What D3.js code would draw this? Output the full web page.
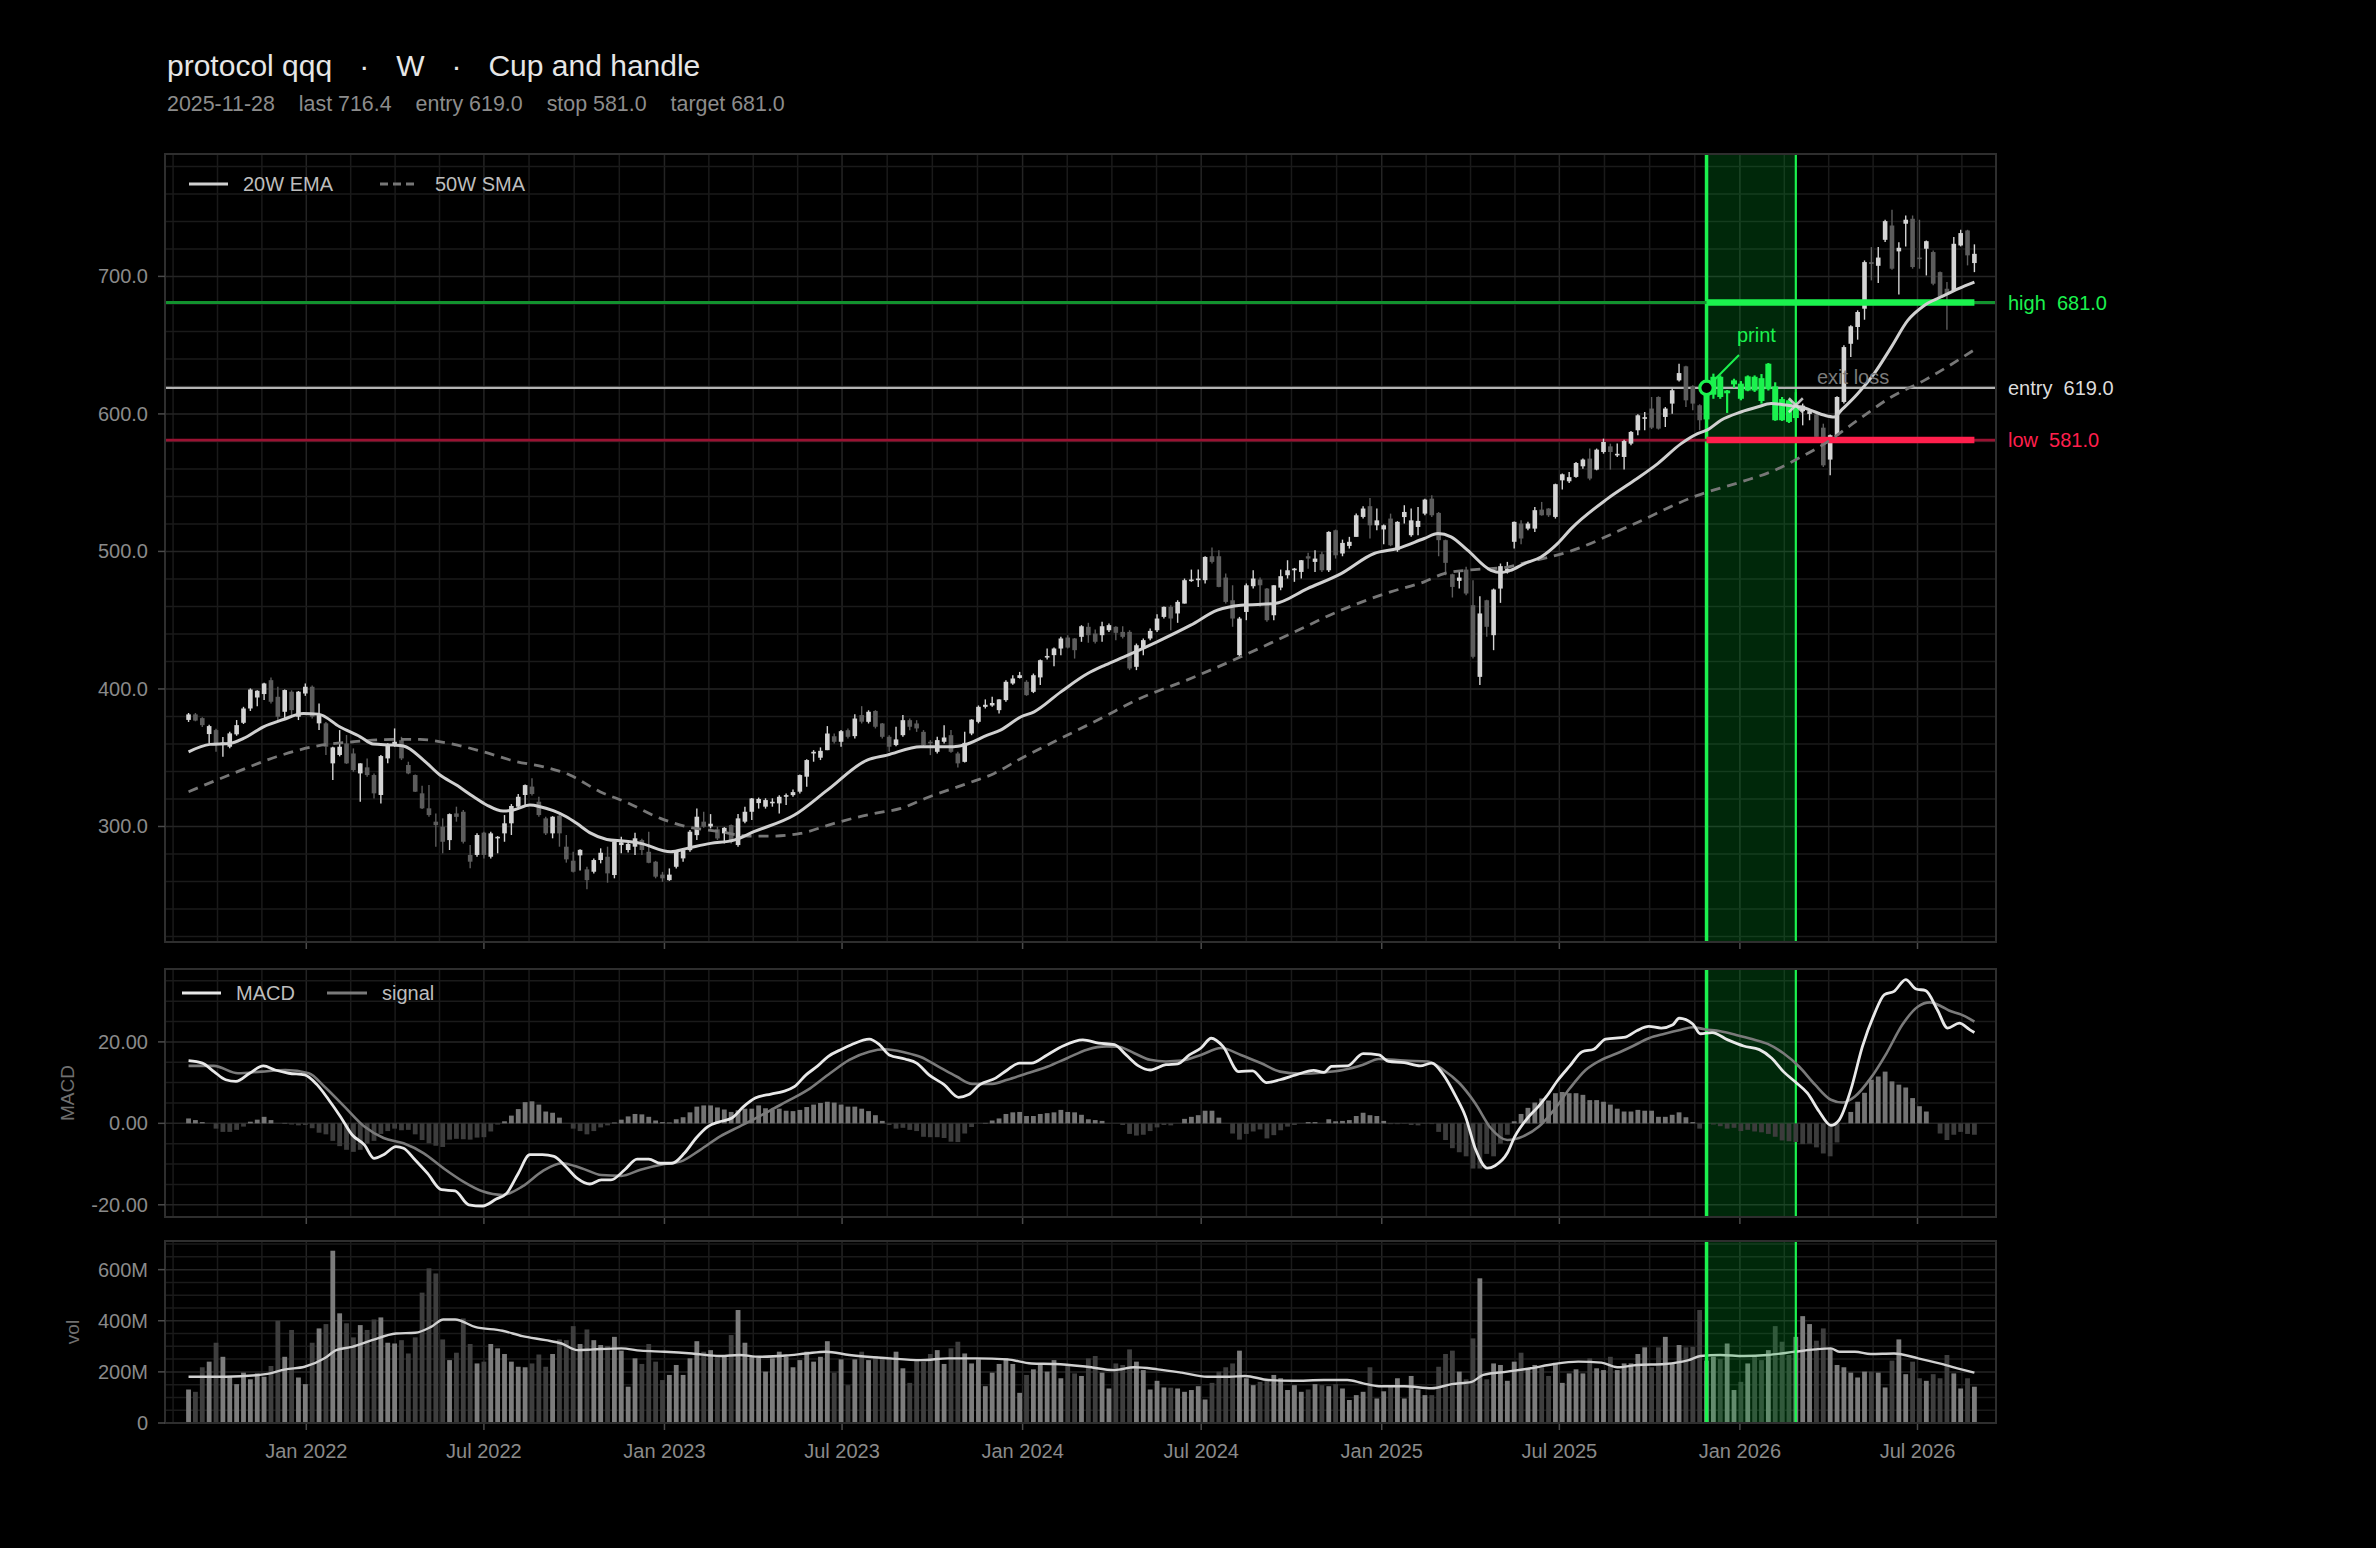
<!DOCTYPE html>
<html>
<head>
<meta charset="utf-8">
<script src="https://cdn.jsdelivr.net/npm/d3@7"></script>
<style>
	body { margin: 0; background: #000; }
	svg { display: block; font-family: "Liberation Sans", Arial, sans-serif; }
</style>
</head>
<body>
<svg id="chart" width="2376" height="1548"></svg>
<script>
// weekly bars, first one on this friday
var firstWeek = "2021-09-03";

var titleParts = ["protocol qqq", "\u00b7", "W", "\u00b7", "Cup and handle"];
var subtitleParts = ["2025-11-28", "last 716.4", "entry 619.0", "stop 581.0", "target 681.0"];

// [open, high, low, close]
var candles = [
	[377.5,382.5,376,381.5],[381.5,382.5,376.5,377],[378.8,379.5,372.3,373.7],[367.2,374,360.4,373],[370.1,371,354.3,360.4],
	[360,365,350.7,361],[358,368.9,356.8,367.7],[367,377.4,366,373.7],[375.4,387,374.5,385.8],[385.8,400.4,384,399.6],
	[393.8,399,387.5,398.7],[396.3,404.5,391.9,404],[406.4,408.4,389.5,390.7],[394.3,401.6,377.4,379.8],[383.4,399.6,378.6,399.2],
	[398,399,381,384.6],[379.8,398.5,377.4,398],[396.7,404,395,401.6],[401.6,402.5,378.6,379.8],[375,389.5,370.1,381],
	[375,376,352,358],[345.9,358,333.8,357.5],[352,370.1,351,358],[360.4,366.5,345.5,345.9],[353.1,356.8,339.8,341],
	[338.6,346,318,345.9],[343,349.5,336.2,337.4],[337.4,338.6,320.4,324.1],[322.9,351.9,316.8,351.2],[349.5,360.5,345.9,359.9],
	[359.2,371.3,358,361.6],[362.8,365.2,348.3,349.5],[344.7,347.1,338,338.6],[337.4,337.8,325,325.3],[324.1,329.6,312.7,313.2],
	[313.2,330.1,307.1,308.3],[303.5,309.5,285.3,301],[299.8,305.9,280.5,288.9],[290.1,309.5,282.9,309],[309.5,314.4,303.5,307],
	[310.7,312,287.7,288.9],[279.3,286.5,269.6,274.4],[279.3,295,278,293.8],[295.5,296.2,276.8,279.3],[278,296.2,276.8,295],
	[291.5,293,280.5,292.5],[295,308.3,288.9,302.3],[302.3,316.3,293.8,314.9],[314.4,323.6,313,321.6],[322.9,330.5,314.4,330.1],
	[329,335,322.5,323.6],[318,321.6,307.1,308.3],[305.9,307,293.8,295],[295,307.5,291.4,307.1],[307.8,309.5,285.3,295],
	[285.3,293.8,273.7,276.1],[275.1,281.7,266.5,267.1],[279,283.4,268,283],[268.8,270.8,254.3,261],[267.1,276.8,265.9,275.6],
	[275.6,284.1,273.2,280.9],[278,285.3,259.1,265.9],[264.7,290,262.3,289],[286.5,292.6,280.5,288.5],[282.9,288,281,287.3],
	[285.3,295.4,279.2,291.4],[290.1,291,279.2,282.9],[281.6,296.2,273.2,273.6],[274.4,275,262.3,263.5],[265,267,259.8,262.3],
	[261,269.5,260.5,265],[270.7,282,269.5,281.6],[276.8,284,274.4,282.8],[282.8,297.4,281.6,296.2],[293.7,313,290.1,307.1],
	[303.5,310.7,299,299.8],[300,309,298.6,302],[297.9,299.8,290.1,291.3],[295,299.5,287.7,299],[301,301.5,287.7,290.1],
	[286.5,309,285.3,305.9],[303.5,314.4,302.3,310.7],[310.7,320.8,304.7,320.4],[317,321,313,320],[314.4,320.5,313,319.2],
	[317,320.5,314.4,318],[316.8,322.8,309.5,321.6],[321.6,324,315.6,322.8],[322.8,326.9,321.6,325],[325.3,337.8,324,337.4],
	[336.2,348.8,328.9,348.3],[353.1,355.5,347.1,354.3],[350,357.5,348.3,355],[355.5,373,355.5,367.6],[365.6,367.6,360.4,361.6],
	[361.6,370.1,357.9,369.3],[370,371.3,364,365.2],[365.7,381.7,364,378.5],[381,387.5,374.9,376.2],[376.1,384.5,374.9,383.4],
	[384,384.6,371.3,372.5],[374.9,375.2,364,365.2],[365.2,366.4,354.3,358],[359.2,372.5,358.4,363.3],[366.4,381,365.2,377.3],
	[377.3,378.5,370,372.5],[374.9,377.3,368.8,371.3],[368.8,370.1,358.4,359.2],[361.6,362.8,351.9,360.4],[354.3,365.2,353.1,362.8],
	[361.6,373.7,360.4,364.7],[366.4,370.1,353.6,354.3],[353.1,354.3,342.9,345.9],[347,368.8,346.5,360.8],[367.6,378,366.4,377.7],
	[376.1,388,375,387],[387,392.4,385.8,388.5],[388,394.3,387,389.8],[384.6,392.5,382.2,392.4],[391.9,406.4,390.7,405.2],
	[404,410,403,407.6],[408,412.4,407.6,410],[405.2,406.4,395,395.5],[397.9,411.2,397,410],[408.4,421.4,402.8,420.9],
	[423.5,429.4,421.4,424],[424.6,430.1,416.6,429.4],[429.4,437.9,424.5,436.7],[437.4,439,429.4,430.1],[436.7,437,422.1,428.2],
	[437.9,446.4,434.3,445.6],[445.2,448.1,433.6,439.1],[440.3,443.2,433,434.3],[439.1,448.8,434.3,445.6],[442.7,447.6,441.5,446.4],
	[445.2,445.6,435.5,440.8],[441.5,445.6,436.7,437.9],[441.5,442.7,413.7,414.9],[416.1,433,413.7,431.8],[429.4,436.7,424.6,435.5],
	[436.7,443.9,435.5,442.2],[442.7,454.4,441.5,451.2],[452.4,460,451.2,459.7],[459.7,460.9,442.7,451.2],[454.9,464.5,448.1,463.3],
	[462.1,480.3,462.1,479.1],[478.6,486.8,477.9,479.6],[479.1,486.8,474.2,480.3],[479.1,496.5,476.7,496],[496.5,502.8,491.2,492.4],
	[496.5,500.9,474,474.2],[481,483.9,462.1,463.3],[464.5,475.4,445.2,451.2],[424.6,452.4,423.4,451.2],[456,476.7,450,475.4],
	[474.7,486.3,473,480.3],[479.6,481,459.7,475.4],[473,473.5,448.8,450],[453.6,475.5,450,475.4],[473.7,486.8,471.8,482],
	[482.7,493.6,480.3,486.3],[486.3,488,477.9,487.5],[485.1,493.8,480.3,493.6],[496.5,499,487.5,494.8],[492.4,500.9,485.1,494.8],
	[498,499.7,485.1,486.3],[486.3,514.7,485.1,514.2],[515.4,515.9,494.8,497.2],[498.5,508.6,496.5,506.2],[504,510.6,502.1,507],
	[510.6,527.5,510.6,526.3],[525.1,532.9,523.9,531.2],[532.9,538.9,509.4,519],[519,531.2,515.4,522.6],[516,519.5,505.3,519],
	[523.9,527.5,503.8,504.5],[500.9,522,499.7,521.5],[525,533.6,520.3,528.7],[511.8,531.2,510.6,522.6],[517.8,532.4,511.8,522.2],
	[527.5,538.4,526.3,537.7],[538.4,540.9,525.1,526.3],[528,528.7,496.5,508.2],[508.2,508.6,482.7,491.7],[483.4,483.8,466.5,474.2],
	[478.6,486.3,473,481],[486.8,488.8,468.2,469.4],[460.9,479.1,422.2,423.4],[408.8,467.5,402.8,454.9],[464.5,464.8,437.9,445.2],
	[439.1,473,428.2,472.3],[473,491.2,462.6,489.3],[484.9,492.4,483.9,487.5],[507,521.8,502.1,521.5],[520.3,522.7,505.3,509.4],
	[516.6,521.5,515.4,520.3],[516.6,532.4,514.2,530],[530.4,536,526,526.3],[531.2,531.5,525.1,526.3],[525.1,549.3,523.9,548.9],
	[551.7,556.6,545,556.1],[551,557.8,549.8,554],[554.2,565.1,553.5,564.3],[561.9,567.5,560.2,566.8],[567.5,574.8,551.7,553],
	[559.5,574.8,559,574],[572.3,582,571.1,579.6],[576.4,578.4,559.5,572.3],[570,578.4,568.7,571],[568.7,581.3,559.5,580.3],
	[578.4,587.6,577.2,586.9],[588.1,599.7,584.4,599],[596.6,601.4,588.1,597.6],[603.9,612.3,589,590],[612.3,612.8,588.6,589.3],
	[597.8,605,590.5,603.9],[607.5,618.4,600.2,617.2],[624.4,636.5,623.5,629.7],[634.6,635,605.1,609.9],[620.1,620.8,602.6,607.5],
	[606.3,607,588.1,595.4],[596,621,588,618],[614,629.3,611,627],[627,628,611,612.3],[615,617.4,600.7,617],
	[621.5,625.6,619,624.4],[622,623.9,609.9,611],[617,628,616.5,627.3],[627,628,616,617],[626,629,607.5,609.4],
	[618,637,617,636.5],[620,623,595,595.4],[610.8,612.3,594.9,595.4],[609.9,610.5,593.4,594.2],[597,615.8,595.4,606],
	[602,607.5,591.7,606],[600,602.6,595.4,602],[599.7,600.5,582,583.3],[590,592.9,561.4,562.6],[566.8,585,555.4,584.5],
	[584.5,612.8,584,612.3],[608.7,649.9,607.5,648.6],[651,664.4,641.4,663.7],[663.2,675.3,654,674.1],[676.5,711.6,668.5,710.4],
	[710.4,721.3,697.1,709],[707.7,721.3,695.2,713.7],[726.6,741.2,725,740.2],[737,748.4,704.9,705.6],[718.2,724.9,686.9,720.8],
	[738.3,744.3,721.8,741.2],[741.9,744.3,705.6,706.8],[713.7,741.2,705.6,712.8],[720.1,726.1,700.7,725.6],[717.7,718.9,693.5,694.7],
	[703.1,703.5,683.8,684.5],[691,695.9,661.2,687.4],[689.8,728.6,688.6,723.7],[722.5,733.9,721.8,731.5],[733.4,733.9,708,715.3],
	[709.7,723.3,703.1,716.4]
];

// weekly volume, millions
var volumes = [
	131,122,218,240,314,259,181,152,197,171,194,181,223,400,259,364,178,152,314,370,
	387,674,429,390,335,383,364,405,413,314,311,324,272,335,510,605,585,327,246,275,
	409,309,233,240,309,292,270,240,220,218,233,268,220,270,327,324,379,309,366,324,
	305,301,337,283,142,253,231,309,240,168,188,227,188,253,320,279,285,266,259,344,
	442,314,262,255,201,253,279,259,218,246,279,240,259,320,197,249,148,249,279,246,
	262,257,259,279,214,157,246,240,270,285,231,292,318,272,233,249,144,197,231,253,
	231,118,188,210,227,201,246,175,223,194,184,253,262,197,135,233,227,288,240,207,
	131,165,139,138,135,122,129,144,92,157,201,218,233,283,175,148,161,165,188,175,
	129,148,122,131,152,148,144,152,135,90,109,122,218,96,124,142,175,96,184,131,
	109,109,220,270,283,201,171,331,566,171,233,227,165,240,275,214,227,218,184,233,
	157,194,210,194,253,214,207,259,207,233,233,270,296,218,296,337,231,305,296,298,
	442,244,259,250,311,129,161,233,259,246,285,379,318,266,337,418,387,322,370,292,
	227,218,197,178,201,201,197,139,244,327,191,240,175,165,191,175,266,194,135,175,
	142
];

var macdHist = [
	1.2,0.8,0.3,0,-1.3,-2.1,-2.1,-1.6,-0.8,0.4,0.9,1.6,0.8,0,0.1,-0.3,-0.5,-0.4,-1.2,-2.3,
	-2.7,-4.3,-5.6,-6.5,-7,-6.5,-5,-4.3,-2.6,-1.9,-1.3,-1.7,-1.6,-2.7,-4.1,-4.9,-5.5,-5.8,-4,-3.8,
	-3.9,-4,-3.5,-3.4,-2,-0.3,0.5,1.9,3.5,5.2,5.4,4.6,2.9,2.6,1.4,0,-1.3,-1.9,-2.7,-1.9,
	-1,-0.5,0.2,0.9,1.7,2.3,2.2,1.6,0.7,0.3,0.2,1,1.5,2.7,4.1,4.4,4.4,3.9,3.4,2.8,
	3.2,3.6,3.6,4.4,3.7,3.3,3.6,3.1,3,3.3,4,4.6,5,5.3,5.1,4.6,4.1,4.1,3.6,3,
	2,0.6,-0.4,-1.3,-1.1,-1.6,-1.9,-3.3,-3.4,-3.4,-3.6,-4.5,-4.6,-2.5,-0.9,0,0.1,0.7,1.2,2.3,
	2.7,2.8,1.8,1.8,2.3,2.5,2.7,3.3,2.8,2.7,2.1,1,0.8,0.6,0,0,-0.4,-2.6,-3,-2.8,
	-1.9,-1,-0.4,-0.5,0,1.1,1.6,2,3.1,3.1,1.4,0,-2.5,-4,-2.6,-2,-1.5,-3.7,-2.9,-1.7,
	-0.8,-0.4,0,0.3,0.3,0,1,0.5,0.6,0.8,1.8,2.6,2,1.8,0.6,-0.2,-0.2,-0.1,-0.4,-0.5,
	-0.1,-0.2,-2.1,-4.1,-6.1,-7.1,-8.1,-11.1,-11.1,-7.5,-8.1,-5,-2.8,0.5,2.3,3.8,5.1,6.1,5.6,7.4,
	7.7,7.4,7.4,7,5.7,5.7,5.3,4.6,3.6,2.9,2.9,3.3,3.1,3.1,1.6,1.6,2.1,2.7,1.5,0.3,
	-1.3,0,-0.3,-0.7,-1.3,-1.1,-1.9,-1.6,-2,-2.2,-2.6,-3.3,-4.2,-4.4,-4.6,-5.1,-5,-5.9,-7.4,-8.1,
	-4.7,-0.2,2.8,5.3,7.5,10.7,11.5,12.7,10.3,9.5,8.8,6.2,4.2,2.9,0,-2.5,-4.1,-2.8,-2.1,-2.6,
	-2.8
];

// indicator readings as [week, value]
var ema20 = [
	[0,354.3],[3.1,359.7],[6,360.4],[8,364],[10.9,372.5],[13.8,377.8],[16.7,382.2],[18.9,381.7],[22,372.5],[25,365.2],
	[26.9,359.9],[29.8,359.2],[31.3,358.5],[34.2,348.3],[36.6,337.4],[39,330.1],[41.5,321.6],[43.4,315.6],[45.8,311.2],[47.3,312],
	[49.7,315.6],[51.2,314.4],[53.1,311.5],[55,307.1],[56.5,302.3],[58.4,295.5],[60.9,290.6],[63.3,289.4],[65.8,287.7],[70.2,281.6],
	[72.6,284.1],[76,287.7],[79.4,290.1],[82.3,296.2],[88.2,308.3],[93,326.4],[98.8,348.3],[101.7,351.9],[106.6,358],[111.4,358],
	[112.9,359.2],[116.3,366.4],[118.2,370.1],[121.2,379.8],[123.1,383.4],[127,397.9],[130.9,411.2],[133.5,417.5],[136.2,423.4],[141,434.3],
	[145.9,446.4],[149.8,457.3],[153.2,460.9],[158.1,462.1],[162.9,473],[167.8,483.9],[172.6,498.5],[176,502.1],[179.9,509.4],[181.9,513],
	[183.8,510.6],[186.2,500.9],[189.6,486.3],[191.1,484.7],[192.5,486.3],[194.5,491.2],[196.9,496],[199.3,505.7],[201.3,516.6],[206.6,538.4],
	[210.5,551.7],[213.9,563.9],[217.3,578.4],[219.7,585.7],[221.2,588.6],[223.1,595.4],[226,601.4],[228.4,605],[230.4,607.5],[232.8,606.3],
	[234.8,605],[236.2,602.6],[238.2,599],[239.6,597.8],[240.6,602.6],[243,614.7],[245.4,629.3],[247.9,648.6],[250.3,668],[252.7,678.9],
	[255.1,685],[257.6,691],[260,695.9]
];
var sma50 = [
	[0,325.3],[6.5,338.6],[12.8,350.7],[18.6,358.5],[24,361.6],[29.8,363.3],[33.7,363.3],[38,360.4],[42.9,354.3],[47.8,347.1],
	[51.7,343.4],[55.5,337.4],[59.9,325.3],[63.8,317.5],[68.7,305.9],[72.6,299.8],[77.5,296.2],[81.4,293],[84.8,293],[89.1,295],
	[94,302.3],[99.8,309.5],[103.7,313.1],[107.6,321.1],[113.4,331.3],[117.3,338.6],[121.2,349.5],[126,361.6],[132.8,378.5],[138.2,392.4],
	[145.9,407.6],[153.2,423.4],[160.5,440.3],[167.8,457.3],[175,470.6],[179.9,477.9],[182.8,483.9],[187.2,486.8],[191.6,488.3],[194.5,491.7],
	[201.3,500.4],[210,519],[219.7,540.8],[226,550.5],[230.9,559],[234.3,567.5],[238.2,578.4],[243,595.4],[247.9,612.3],[252.7,624.4],
	[260,646.7]
];
var macdLine = [
	[0,15.4],[2,14.8],[3.7,12.7],[5.4,10.7],[6.9,10.3],[8.9,12.3],[10.9,14.1],[12.6,13.1],[14.6,12.3],[16.9,11.9],
	[18.7,9.5],[20.4,5.8],[22.1,1.7],[23.8,-2.8],[25.6,-5.3],[27,-8.6],[28.4,-7.7],[30.2,-5.7],[31.3,-6.1],[33,-9],
	[34.8,-12.3],[36.8,-16.3],[38.8,-16.6],[40.8,-20],[42.8,-20.3],[44.8,-18.6],[46.3,-17.2],[48,-12.3],[49.7,-7.7],[51.5,-7.7],
	[53.2,-8.1],[54.9,-10.6],[56.6,-13.5],[58.4,-14.9],[60.1,-13.9],[61.5,-13.9],[63.5,-11.4],[65.3,-8.8],[67,-8.8],[68.7,-9.8],
	[70.4,-9.8],[72.2,-7.3],[73.9,-3.6],[75.6,-0.8],[77.3,0.4],[79.1,1.3],[80.8,4.1],[82.5,6.2],[84.8,7.2],[86.5,7.8],
	[88.2,9],[89.9,11.9],[91.6,14.1],[93.1,16.4],[95.1,18.2],[96.5,19.3],[99.1,20.7],[100.6,19.3],[102,16.8],[104.3,15.8],
	[106,14.8],[107.8,11.9],[110,9.5],[112.1,6.4],[113.5,7],[115.2,9.5],[117.5,11.1],[119.2,13.1],[121,14.8],[122.7,14.8],
	[125,16.8],[127.3,19],[130.2,20.5],[132.5,19.7],[134.8,19.3],[136.5,16.8],[138.3,14.1],[140,13.1],[142.3,14.4],[144,14.6],
	[145.7,16.8],[147.4,18.5],[148.9,20.9],[150.6,18.9],[152.9,12.7],[154.9,12.9],[156.9,10],[158.9,10.7],[161.2,11.9],[163.8,13],
	[165.3,12.5],[166.4,14],[168.7,14.1],[171,17.1],[173.3,16.8],[174.7,15.2],[177,14.9],[179.3,14.1],[181,14.8],[182.7,11.9],
	[184.5,6.6],[185.9,1.7],[187.4,-6.5],[189.1,-11],[190.2,-10.4],[192,-7.3],[193.1,-3.2],[194.8,1],[196.5,4.1],[197.7,6.6],
	[199.4,10.7],[201.1,14.1],[202.9,17.6],[204.6,18.2],[206.3,20.7],[209.2,21.2],[210.9,22.8],[212.6,23.8],[214.4,23.4],[216.1,24.2],
	[217,25.8],[219,24.4],[220.1,22],[221.8,22.3],[224.1,20.5],[226.4,19],[228.7,18.1],[230.5,16],[232.2,12.7],[233.9,10.2],
	[235.7,7.4],[237.4,2.9],[239.1,-0.5],[240.3,0.8],[242,8.2],[243.7,18.9],[245.4,26.7],[246.9,31.6],[248.3,32.4],[250,35.3],
	[251.5,33],[252.9,32.6],[254.6,27.9],[256.1,23.4],[257.8,24.6],[259.3,23],[260,22.3]
];
var signalLine = [
	[0,14.1],[3.7,14.1],[7.2,12.3],[10.6,12.7],[14.1,13.1],[17.5,12.3],[19.8,9],[22.7,4.1],[25.6,-0.8],[28.4,-3.6],
	[31.3,-4.9],[34.2,-7.3],[37.1,-11],[40,-14.3],[42.8,-16.7],[45.7,-17.6],[48.6,-15.5],[51.5,-11.8],[54.3,-9.8],[57.2,-11],
	[60.1,-12.7],[63,-12.9],[65.8,-11.4],[69.3,-10],[71.6,-9.4],[74.5,-6.5],[77.4,-3.2],[80.2,-0.8],[83.1,1.7],[84.7,3.2],
	[87.6,5.8],[90.5,8.6],[93.4,12.3],[96.2,15.6],[99.1,17.6],[101.4,18.2],[104.3,17.4],[106.6,16.3],[109.5,13.6],[111.8,11.5],
	[114.1,9.7],[117,9.7],[119.2,10.7],[122.1,12.3],[125,13.9],[127.9,16],[130.8,18.1],[133.6,18.9],[135.4,18.8],[137.7,17.2],
	[140,15.6],[142.3,15.2],[144.6,15.4],[147.4,16.8],[150.3,18.5],[153.2,16.8],[156.1,14.8],[158.9,12.7],[161.8,12.2],[165.3,12.5],
	[168.1,13.1],[171,14.4],[173.3,15.8],[177,15.4],[180.4,15.2],[182.7,13.1],[185,9.9],[187.3,5],[189.6,-1.2],[192,-4.1],
	[194.3,-3.2],[196.6,-0.8],[198.8,3.3],[201.1,8.6],[203.4,13.1],[205.7,15.6],[208,17.2],[210.3,19],[212.6,20.9],[214.9,22],
	[217.3,23],[219,23.6],[220.7,23.1],[223,22.6],[225.3,21.7],[227.6,20.7],[229.9,19.5],[232.2,17.2],[234.5,13.9],[236.8,9.5],
	[239.1,5.8],[240.8,5.1],[242.6,6.6],[244.9,11.1],[247.2,17.2],[249.5,24.2],[251.8,28.7],[253.5,29.7],[255.2,28.7],[256.3,27.7],
	[258.1,26.7],[260,25]
];
var volAvg = [
	[0,181],[5.4,181],[11.2,191],[14.1,210],[16.9,220],[19.8,253],[21.5,285],[23.8,298],[26.7,324],[30.2,350],
	[33,353],[35.3,376],[37.1,405],[38.8,405],[41.7,376],[45.7,361],[48.6,340],[52,324],[54.3,311],[56.6,285],
	[58.9,288],[63,292],[65.8,283],[69.3,279],[73.3,272],[77.4,262],[80.2,266],[83.1,259],[87,264],[89.9,272],
	[92.8,279],[96.2,266],[102,253],[106.6,246],[110.6,253],[114.7,253],[119.2,249],[122.7,233],[126.2,231],[130.8,220],
	[134.8,207],[137.7,218],[141.1,210],[144.6,197],[148.3,181],[151.5,181],[153.8,184],[157.2,168],[160.7,165],[165.3,168],
	[168.7,168],[171,155],[173.3,144],[177,144],[181,136],[183.9,152],[186.8,161],[188.5,188],[192,201],[195.4,214],
	[198.8,231],[202.3,240],[205.7,236],[208,218],[210.9,227],[214.9,231],[218.4,246],[220.1,262],[223,266],[226.4,262],
	[229.9,266],[233.9,279],[236.8,288],[239.1,292],[240.3,279],[242.6,279],[244.9,270],[248.3,272],[251.8,253],[255.2,231],
	[258.1,210],[260,197]
];

var priceTicks = [300, 400, 500, 600, 700];
var macdTicks = [-20, 0, 20];
var volTicks = [0, 200, 400, 600];
var volTickLabels = ["0", "200M", "400M", "600M"];
var dateTicks = ["2022-01-01", "2022-07-01", "2023-01-01", "2023-07-01", "2024-01-01",
	"2024-07-01", "2025-01-01", "2025-07-01", "2026-01-01", "2026-07-01"];

// trade: entry week, exit week, levels
var entryWeek = 221;
var exitWeek = 234;
var exitPrice = 606.3;
var levelNames = ["high", "entry", "low"];
var levelValues = [681.0, 619.0, 581.0];

var chart = {
	left:		165,
	right:		1996,
	price:		{top: 154, bottom: 942, id: "clipPrice"},
	macd:		{top: 969, bottom: 1217, id: "clipMacd"},
	vol:		{top: 1241, bottom: 1423, id: "clipVol"},
	bodyW:		4.6,
	green:		"#1bf24e",
	red:		"#ff1f4c",
	start:		null,
	svg:		null,
	x:			null,
	yPrice:		null,
	yMacd:		null,
	yVol:		null,

	setup: function() {
		this.svg = d3.select("#chart");
		this.start = d3.utcParse("%Y-%m-%d")(firstWeek);

		this.x = d3.scaleUtc()
			.domain([new Date(Date.UTC(2021, 7, 10)), new Date(Date.UTC(2026, 8, 19))])
			.range([this.left, this.right]);
		this.yPrice = d3.scaleLinear().domain([216, 789]).range([this.price.bottom, this.price.top]);
		this.yMacd = d3.scaleLinear().domain([-23, 37.9]).range([this.macd.bottom, this.macd.top]);
		this.yVol = d3.scaleLinear().domain([0, 712]).range([this.vol.bottom, this.vol.top]);

		this.svg.append("rect").attr("width", 2376).attr("height", 1548).attr("fill", "#000");

		var defs = this.svg.append("defs");
		[this.price, this.macd, this.vol].forEach(function(p) {
			defs.append("clipPath").attr("id", p.id)
				.append("rect")
				.attr("x", chart.left).attr("y", p.top)
				.attr("width", chart.right - chart.left).attr("height", p.bottom - p.top);
		});
	},

	wx: function(i) {
		return chart.x(new Date(chart.start.getTime() + i * 7 * 864e5));
	},

	// vertical grid: major at the date ticks, 3 minor between
	grid: function(p, yScale, minorStep, majorStep) {
		var g = this.svg.append("g");
		var majors = dateTicks.map(function(d) { return chart.x(d3.utcParse("%Y-%m-%d")(d)); });
		var minors = [];
		for (var k = 0; k < majors.length; k++) {
			var next = k < majors.length - 1 ? majors[k + 1] : majors[k] + (majors[k] - majors[k - 1]);
			var step = (next - majors[k]) / 4;
			for (var j = 1; j < 4; j++) minors.push(majors[k] + j * step);
			if (k == 0) for (var j = 1; j < 4; j++) minors.push(majors[0] - j * step);
		}
		minors = minors.filter(function(v) { return v > chart.left + 2 && v < chart.right - 2; });

		g.selectAll(".vmin").data(minors).enter().append("line")
			.attr("x1", function(d) { return d; }).attr("x2", function(d) { return d; })
			.attr("y1", p.top).attr("y2", p.bottom)
			.attr("stroke", "#1a1a1a").attr("stroke-width", 1.5);
		g.selectAll(".vmaj").data(majors).enter().append("line")
			.attr("x1", function(d) { return d; }).attr("x2", function(d) { return d; })
			.attr("y1", p.top).attr("y2", p.bottom)
			.attr("stroke", "#242424").attr("stroke-width", 1.5);

		var d0 = yScale.domain();
		var hs = d3.range(Math.ceil(d0[0] / minorStep) * minorStep, d0[1], minorStep);
		g.selectAll(".h").data(hs).enter().append("line")
			.attr("x1", this.left).attr("x2", this.right)
			.attr("y1", function(d) { return yScale(d); }).attr("y2", function(d) { return yScale(d); })
			.attr("stroke", function(d) { return Math.abs(d % majorStep) < 1e-6 ? "#242424" : "#1a1a1a"; })
			.attr("stroke-width", 1.5);

		// bottom tick marks
		g.selectAll(".bt").data(majors).enter().append("line")
			.attr("x1", function(d) { return d; }).attr("x2", function(d) { return d; })
			.attr("y1", p.bottom).attr("y2", p.bottom + 7)
			.attr("stroke", "#4a4a4a").attr("stroke-width", 1.5);
	},

	frame: function(p) {
		this.svg.append("rect")
			.attr("x", this.left).attr("y", p.top)
			.attr("width", this.right - this.left).attr("height", p.bottom - p.top)
			.attr("fill", "none").attr("stroke", "#2e2e2e").attr("stroke-width", 2);
	},

	yAxis: function(p, yScale, ticks, labels) {
		var g = this.svg.append("g");
		g.selectAll("line").data(ticks).enter().append("line")
			.attr("x1", this.left - 7).attr("x2", this.left)
			.attr("y1", function(d) { return yScale(d); }).attr("y2", function(d) { return yScale(d); })
			.attr("stroke", "#4a4a4a").attr("stroke-width", 1.5);
		g.selectAll("text").data(ticks).enter().append("text")
			.attr("x", this.left - 17)
			.attr("y", function(d) { return yScale(d); })
			.attr("dy", "0.35em")
			.attr("text-anchor", "end")
			.attr("font-size", 20)
			.attr("fill", "#8a8a8a")
			.text(function(d, i) { return labels[i]; });
	},

	tradeZone: function(p) {
		var x0 = this.wx(entryWeek), x1 = this.wx(exitWeek);
		var g = this.svg.append("g");
		g.append("rect")
			.attr("x", x0).attr("y", p.top)
			.attr("width", x1 - x0).attr("height", p.bottom - p.top)
			.attr("fill", "#00c832").attr("opacity", 0.2);
		g.append("line")
			.attr("x1", x0).attr("x2", x0).attr("y1", p.top).attr("y2", p.bottom)
			.attr("stroke", this.green).attr("stroke-width", 3.5);
		g.append("line")
			.attr("x1", x1).attr("x2", x1).attr("y1", p.top).attr("y2", p.bottom)
			.attr("stroke", this.green).attr("stroke-width", 2.2);
	},

	chain: function(parts, x, y, size, fill, gap) {
		var cx = x;
		parts.forEach(function(s) {
			var t = chart.svg.append("text")
				.attr("x", cx).attr("y", y)
				.attr("font-size", size)
				.attr("fill", fill)
				.text(s);
			cx += t.node().getComputedTextLength() + gap;
		});
	},

	line: function(pts, yScale) {
		return d3.line()
			.x(function(d) { return chart.wx(d[0]); })
			.y(function(d) { return yScale(d[1]); })
			.curve(d3.curveMonotoneX)(pts);
	},

	draw: function() {
		var x = this.x, yP = this.yPrice, yM = this.yMacd, yV = this.yVol;
		var bw = this.bodyW;

		this.chain(titleParts, 167, 76, 30, "#e6e6e6", 27);
		this.chain(subtitleParts, 167, 111, 21.4, "#8c8c8c", 24);

		// ---- price panel
		this.grid(this.price, yP, 20, 100);
		this.tradeZone(this.price);

		var levelColors = ["#12922e", "#b4b4b4", "#9a1232"];
		var pg = this.svg.append("g").attr("clip-path", "url(#clipPrice)");
		pg.selectAll(".lvl").data(levelValues).enter().append("line")
			.attr("x1", this.left).attr("x2", this.right)
			.attr("y1", function(d) { return yP(d); }).attr("y2", function(d) { return yP(d); })
			.attr("stroke", function(d, i) { return levelColors[i]; })
			.attr("stroke-width", function(d, i) { return i == 1 ? 2.2 : 2.8; });

		var inTrade = function(i) { return i >= entryWeek && i <= exitWeek; };
		var candleColor = function(d, i) {
			if (inTrade(i)) return chart.green;
			return d[3] >= d[0] ? "#d4d4d4" : "#5c5c5c";
		};

		pg.selectAll(".wick").data(candles).enter().append("line")
			.attr("x1", function(d, i) { return chart.wx(i); })
			.attr("x2", function(d, i) { return chart.wx(i); })
			.attr("y1", function(d) { return yP(d[1]); })
			.attr("y2", function(d) { return yP(d[2]); })
			.attr("stroke", candleColor)
			.attr("stroke-width", function(d, i) { return inTrade(i) ? 2.2 : 1.4; });

		pg.selectAll(".body").data(candles).enter().append("rect")
			.attr("x", function(d, i) { return chart.wx(i) - (inTrade(i) ? 3 : bw / 2); })
			.attr("width", function(d, i) { return inTrade(i) ? 6 : bw; })
			.attr("y", function(d) { return yP(Math.max(d[0], d[3])); })
			.attr("height", function(d) { return Math.max(1.6, Math.abs(yP(d[0]) - yP(d[3]))); })
			.attr("fill", candleColor);

		// thick level segments from entry to the last bar
		var segs = [0, 2];
		pg.selectAll(".seg").data(segs).enter().append("line")
			.attr("x1", this.wx(entryWeek)).attr("x2", this.wx(candles.length - 1))
			.attr("y1", function(d) { return yP(levelValues[d]); })
			.attr("y2", function(d) { return yP(levelValues[d]); })
			.attr("stroke", function(d) { return d == 0 ? chart.green : chart.red; })
			.attr("stroke-width", 6.5);

		// exit annotation sits under the averages
		this.svg.append("text")
			.attr("x", 1817).attr("y", 384)
			.attr("font-size", 20)
			.attr("fill", "#7a7a7a")
			.text("exit loss");

		pg.append("path")
			.attr("d", this.line(sma50, yP))
			.attr("fill", "none").attr("stroke", "#777").attr("stroke-width", 2.8)
			.attr("stroke-dasharray", "10,7");
		pg.append("path")
			.attr("d", this.line(ema20, yP))
			.attr("fill", "none").attr("stroke", "#d0d0d0").attr("stroke-width", 3);

		// entry marker
		var ex = this.wx(entryWeek), ey = yP(levelValues[1]);
		this.svg.append("line")
			.attr("x1", 1739).attr("y1", 355).attr("x2", ex + 7).attr("y2", ey - 7)
			.attr("stroke", this.green).attr("stroke-width", 2);
		this.svg.append("text")
			.attr("x", 1737).attr("y", 342)
			.attr("font-size", 20)
			.attr("fill", this.green)
			.text("print");
		this.svg.append("circle")
			.attr("cx", ex).attr("cy", ey).attr("r", 6.7)
			.attr("fill", "#000").attr("stroke", this.green).attr("stroke-width", 3.2);

		// exit cross
		var xx = this.wx(exitWeek), xy = yP(exitPrice);
		this.svg.append("path")
			.attr("d", "M" + (xx - 7) + "," + (xy - 7) + "L" + (xx + 7) + "," + (xy + 7) +
				"M" + (xx - 7) + "," + (xy + 7) + "L" + (xx + 7) + "," + (xy - 7))
			.attr("stroke", "#dcdcdc").attr("stroke-width", 2.5).attr("opacity", 0.85);

		// right hand level labels
		var labelColors = [this.green, "#dcdcdc", this.red];
		this.svg.selectAll(".lvlText").data(levelValues).enter().append("text")
			.attr("x", 2008)
			.attr("y", function(d) { return yP(d); })
			.attr("dy", "0.35em")
			.attr("font-size", 20)
			.attr("fill", function(d, i) { return labelColors[i]; })
			.style("white-space", "pre")
			.text(function(d, i) { return levelNames[i] + "  " + d.toFixed(1); });

		this.frame(this.price);
		this.yAxis(this.price, yP, priceTicks, priceTicks.map(function(d) { return d.toFixed(1); }));

		// legend
		this.svg.append("line").attr("x1", 189).attr("x2", 228).attr("y1", 184).attr("y2", 184)
			.attr("stroke", "#d0d0d0").attr("stroke-width", 3);
		this.svg.append("text").attr("x", 243).attr("y", 184).attr("dy", "0.35em")
			.attr("font-size", 20).attr("fill", "#bdbdbd").text("20W EMA");
		this.svg.append("line").attr("x1", 380).attr("x2", 414).attr("y1", 184).attr("y2", 184)
			.attr("stroke", "#777").attr("stroke-width", 2.8).attr("stroke-dasharray", "8,5");
		this.svg.append("text").attr("x", 435).attr("y", 184).attr("dy", "0.35em")
			.attr("font-size", 20).attr("fill", "#bdbdbd").text("50W SMA");

		// ---- macd panel
		this.grid(this.macd, yM, 5, 20);
		this.tradeZone(this.macd);
		var mg = this.svg.append("g").attr("clip-path", "url(#clipMacd)");
		mg.selectAll(".hist").data(macdHist).enter().append("rect")
			.attr("x", function(d, i) { return chart.wx(i) - 2.4; })
			.attr("width", 4.8)
			.attr("y", function(d) { return yM(Math.max(0, d)); })
			.attr("height", function(d) { return Math.abs(yM(d) - yM(0)); })
			.attr("fill", function(d) { return d >= 0 ? "#747474" : "#3c3c3c"; });
		mg.append("path")
			.attr("d", this.line(signalLine, yM))
			.attr("fill", "none").attr("stroke", "#7a7a7a").attr("stroke-width", 2.6);
		mg.append("path")
			.attr("d", this.line(macdLine, yM))
			.attr("fill", "none").attr("stroke", "#e8e8e8").attr("stroke-width", 2.8);
		this.frame(this.macd);
		this.yAxis(this.macd, yM, macdTicks, macdTicks.map(function(d) { return d.toFixed(2); }));

		this.svg.append("line").attr("x1", 182).attr("x2", 221).attr("y1", 993).attr("y2", 993)
			.attr("stroke", "#e8e8e8").attr("stroke-width", 3);
		this.svg.append("text").attr("x", 236).attr("y", 993).attr("dy", "0.35em")
			.attr("font-size", 20).attr("fill", "#bdbdbd").text("MACD");
		this.svg.append("line").attr("x1", 327).attr("x2", 367).attr("y1", 993).attr("y2", 993)
			.attr("stroke", "#7a7a7a").attr("stroke-width", 3);
		this.svg.append("text").attr("x", 382).attr("y", 993).attr("dy", "0.35em")
			.attr("font-size", 20).attr("fill", "#bdbdbd").text("signal");

		this.svg.append("text")
			.attr("transform", "translate(74," + ((this.macd.top + this.macd.bottom) / 2) + ") rotate(-90)")
			.attr("text-anchor", "middle")
			.attr("font-size", 19).attr("fill", "#707070")
			.text("MACD");

		// ---- volume panel
		this.grid(this.vol, yV, 50, 200);
		var vg = this.svg.append("g").attr("clip-path", "url(#clipVol)");
		vg.selectAll(".vbar").data(volumes).enter().append("rect")
			.attr("x", function(d, i) { return chart.wx(i) - 2.4; })
			.attr("width", 4.8)
			.attr("y", function(d) { return yV(d); })
			.attr("height", function(d) { return yV(0) - yV(d); })
			.attr("fill", function(d, i) { return candles[i][3] >= candles[i][0] ? "#7c7c7c" : "#3e3e3e"; });
		this.tradeZone(this.vol);
		vg.append("path")
			.attr("d", this.line(volAvg, yV))
			.attr("fill", "none").attr("stroke", "#d0d0d0").attr("stroke-width", 2.4);
		this.frame(this.vol);
		this.yAxis(this.vol, yV, volTicks, volTickLabels);

		this.svg.append("text")
			.attr("transform", "translate(79," + ((this.vol.top + this.vol.bottom) / 2) + ") rotate(-90)")
			.attr("text-anchor", "middle")
			.attr("font-size", 19).attr("fill", "#707070")
			.text("vol");

		// date labels under the volume panel
		var fmt = d3.utcFormat("%b %Y");
		this.svg.selectAll(".dlab").data(dateTicks).enter().append("text")
			.attr("x", function(d) { return x(d3.utcParse("%Y-%m-%d")(d)); })
			.attr("y", 1458)
			.attr("text-anchor", "middle")
			.attr("font-size", 20)
			.attr("fill", "#8a8a8a")
			.text(function(d) { return fmt(d3.utcParse("%Y-%m-%d")(d)); });
	}
};

chart.setup();
chart.draw();
</script>
</body>
</html>
